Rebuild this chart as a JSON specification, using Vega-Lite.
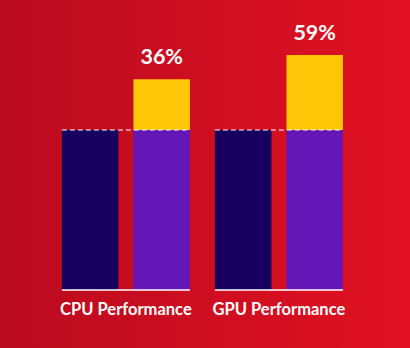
{
  "$schema": "https://vega.github.io/schema/vega-lite/v6.json",
  "width": 410,
  "height": 348,
  "padding": 0,
  "autosize": "none",
  "background": "#cf0e20",
  "config": {
    "view": {
      "stroke": null,
      "fill": {"gradient": "linear", "x1": 0, "x2": 1, "y1": 0, "y2": 0,
        "stops": [{"offset": 0, "color": "#ba0b1f"}, {"offset": 1, "color": "#e11122"}]}
    }
  },
  "data": {
    "values": [
      {"group": "CPU Performance", "series": "previous", "part": "previous", "ord": 1, "value": 100, "label": ""},
      {"group": "CPU Performance", "series": "current", "part": "current", "ord": 1, "value": 100, "label": ""},
      {"group": "CPU Performance", "series": "current", "part": "uplift", "ord": 2, "value": 31.7, "label": "36%"},
      {"group": "GPU Performance", "series": "previous", "part": "previous", "ord": 1, "value": 100, "label": ""},
      {"group": "GPU Performance", "series": "current", "part": "current", "ord": 1, "value": 100, "label": ""},
      {"group": "GPU Performance", "series": "current", "part": "uplift", "ord": 2, "value": 46.9, "label": "59%"}
    ]
  },
  "encoding": {
    "x": {
      "field": "group", "type": "nominal",
      "scale": {"paddingInner": 0.163, "paddingOuter": 0.4215, "align": 0.48},
      "axis": {"orient": "bottom", "offset": -58, "domain": false, "ticks": false, "title": null,
        "labelAngle": 0, "labelPadding": 11, "labelFont": "Lato", "labelFontSize": 16.5,
        "labelFontWeight": "bold", "labelColor": "#ffffff", "labelBaseline": "top"}
    }
  },
  "layer": [
    {
      "mark": {"type": "bar"},
      "encoding": {
        "xOffset": {"field": "series", "type": "nominal", "sort": ["previous", "current"],
          "scale": {"domain": ["previous", "current"], "paddingInner": 0.21, "paddingOuter": 0}},
        "y": {"field": "value", "type": "quantitative", "stack": "zero",
          "scale": {"domain": [-36.25, 181.25], "nice": false, "zero": false}, "axis": null},
        "order": {"field": "ord", "type": "quantitative"},
        "color": {"field": "part", "type": "nominal",
          "scale": {"domain": ["previous", "current", "uplift"], "range": ["#170060", "#6516b6", "#ffc506"]},
          "legend": null}
      }
    },
    {
      "transform": [{"filter": "datum.part === 'previous'"}],
      "mark": {"type": "rule", "color": "#ffffff", "strokeWidth": 1.2, "strokeDash": [5, 3]},
      "encoding": {
        "x": {"field": "group", "type": "nominal", "bandPosition": 0},
        "x2": {"field": "group", "bandPosition": 1},
        "y": {"field": "value", "type": "quantitative"}
      }
    },
    {
      "transform": [{"filter": "datum.part === 'previous'"}],
      "mark": {"type": "rule", "color": "#ffffff", "strokeWidth": 1.5},
      "encoding": {
        "x": {"field": "group", "type": "nominal", "bandPosition": 0},
        "x2": {"field": "group", "bandPosition": 1},
        "y": {"datum": 0, "type": "quantitative"}
      }
    },
    {
      "transform": [
        {"joinaggregate": [{"op": "sum", "field": "value", "as": "total"}], "groupby": ["group", "series"]},
        {"filter": "datum.part === 'uplift'"}
      ],
      "mark": {"type": "text", "color": "#ffffff", "font": "Lato", "fontSize": 21.5, "fontWeight": "bold",
        "baseline": "bottom", "dy": -10},
      "encoding": {
        "xOffset": {"field": "series", "type": "nominal"},
        "y": {"field": "total", "type": "quantitative"},
        "text": {"field": "label"}
      }
    }
  ]
}
